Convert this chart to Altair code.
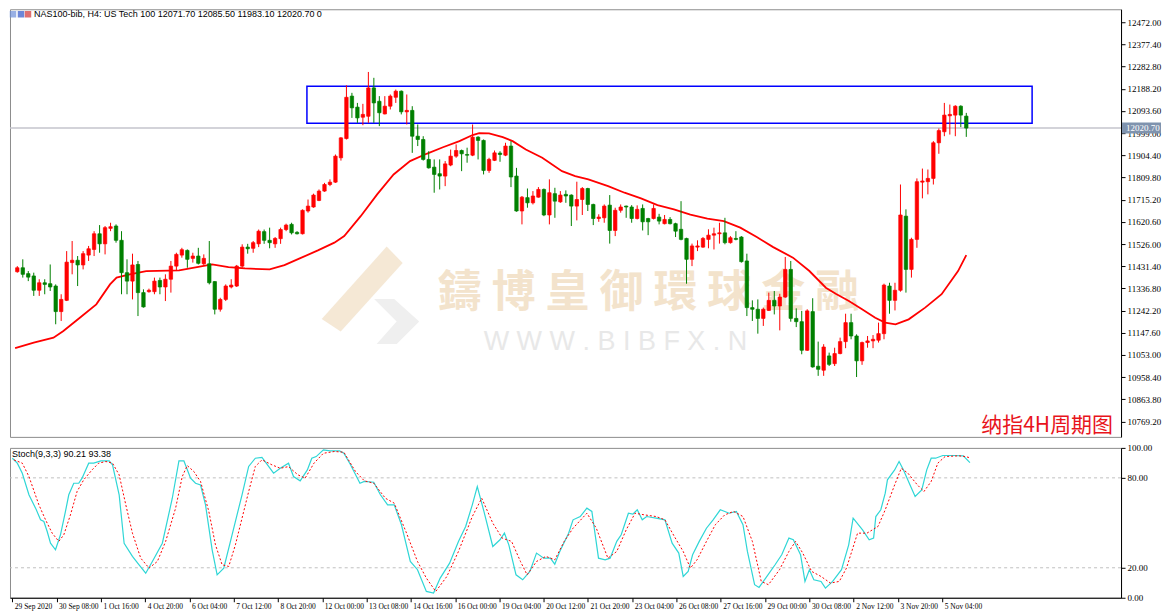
import altair as alt
import pandas as pd

# ---------------- data ----------------
opens = [11408,11425,11400,11390,11329,11361,11357,11347,11238,11286,
         11447,11457,11437,11479,11503,11570,11527,11593,11603,11542,
         11404,11368,11439,11319,11323,11323,11371,11343,11376,11432,
         11479,11499,11465,11475,11442,11442,11366,11248,11290,11343,
         11347,11432,11513,11508,11527,11579,11542,11527,11549,11588,
         11610,11576,11570,11667,11684,11712,11752,11780,11790,11894,
         11976,12157,12110,12067,12071,12192,12135,12081,12114,12152,
         12178,12090,12096,11986,11972,11887,11854,11826,11816,11863,
         11901,11925,11908,11905,11982,11968,11840,11883,11914,11905,
         11944,11816,11667,11724,11702,11726,11759,11650,11741,11706,
         11738,11735,11688,11716,11763,11695,11635,11638,11692,11584,
         11670,11688,11684,11635,11678,11635,11635,11641,11613,11631,
         11613,11589,11550,11461,11513,11513,11546,11564,11570,11574,
         11532,11550,11556,11454,11255,11248,11209,11243,11286,11262,
         11300,11418,11209,11195,11073,11238,11005,10988,11049,11016,
         11059,11110,11191,11134,11028,11106,11113,11116,11144,11347,
         11286,11329,11645,11418,11546,11790,11792,11806,11958,12005,
         12073,12076,12114,12071.7]
highs = [11432,11461,11411,11404,11376,11376,11439,11354,11312,11496,
         11539,11475,11496,11518,11581,11607,11603,11617,11610,11581,
         11461,11485,11454,11333,11336,11383,11383,11397,11454,11489,
         11510,11503,11489,11510,11482,11539,11368,11297,11354,11376,
         11437,11525,11527,11539,11588,11588,11596,11556,11596,11613,
         11617,11581,11674,11716,11741,11759,11787,11802,11908,11982,
         12203,12171,12128,12124,12260,12235,12157,12157,12164,12185,
         12181,12164,12114,12036,11986,11922,11887,11887,11880,11929,
         11951,11929,11937,12036,11986,11972,11894,11925,11922,11958,
         11965,11851,11731,11763,11752,11769,11763,11802,11766,11752,
         11755,11738,11792,11769,11766,11698,11653,11695,11735,11681,
         11695,11690,11692,11691,11695,11638,11695,11655,11650,11641,
         11617,11709,11553,11528,11542,11556,11589,11596,11617,11638,
         11560,11581,11560,11485,11286,11290,11255,11319,11326,11314,
         11471,11454,11252,11241,11248,11295,11110,11099,11063,11084,
         11127,11229,11229,11141,11110,11134,11138,11191,11357,11361,
         11361,11780,11674,11553,11806,11848,11844,11965,12019,12128,
         12121,12118,12118,12085.5]
lows = [11404,11383,11368,11305,11305,11312,11326,11184,11198,11283,
        11397,11347,11418,11454,11475,11489,11482,11581,11532,11312,
        11312,11290,11219,11255,11319,11312,11312,11283,11319,11411,
        11468,11425,11447,11439,11437,11354,11226,11238,11283,11337,
        11343,11425,11485,11489,11513,11527,11508,11510,11527,11581,
        11567,11567,11567,11660,11681,11709,11749,11773,11787,11882,
        11972,12064,12043,12033,12043,12043,12029,12079,12100,12128,
        12079,12036,11915,11944,11882,11848,11745,11759,11773,11858,
        11894,11837,11873,11901,11887,11823,11830,11880,11877,11901,
        11769,11664,11610,11681,11695,11724,11645,11610,11638,11702,
        11702,11603,11627,11650,11667,11607,11621,11617,11528,11560,
        11660,11638,11617,11631,11584,11564,11631,11610,11610,11610,
        11556,11542,11357,11432,11496,11510,11508,11503,11528,11525,
        11528,11542,11447,11219,11198,11144,11177,11241,11226,11158,
        11297,11195,11172,11056,11070,10999,10964,10964,11006,11006,
        11056,11082,11120,10959,11011,11084,11082,11106,11120,11229,
        11243,11323,11319,11383,11510,11721,11738,11780,11911,11986,
        11993,11986,12025,11983.1]
closes = [11425,11397,11385,11329,11361,11354,11343,11238,11290,11449,
          11457,11437,11485,11506,11570,11527,11596,11600,11542,11404,
          11368,11437,11319,11258,11329,11368,11343,11376,11432,11482,
          11502,11461,11475,11444,11465,11361,11248,11290,11347,11351,
          11432,11513,11506,11532,11581,11542,11532,11550,11588,11607,
          11574,11570,11670,11688,11735,11752,11780,11790,11901,11979,
          12152,12107,12064,12079,12192,12128,12086,12114,12157,12178,
          12090,12096,11986,11972,11887,11851,11823,11816,11868,11901,
          11925,11911,11905,11982,11968,11840,11887,11915,11908,11944,
          11812,11667,11726,11702,11731,11759,11650,11745,11709,11735,
          11731,11688,11716,11763,11695,11635,11641,11688,11584,11670,
          11684,11684,11635,11674,11621,11621,11678,11624,11631,11613,
          11581,11546,11461,11518,11518,11550,11564,11570,11574,11532,
          11553,11546,11451,11255,11248,11209,11248,11286,11262,11300,
          11418,11209,11195,11073,11241,11002,10992,11087,11013,11059,
          11110,11191,11134,11028,11106,11113,11120,11144,11351,11286,
          11329,11650,11418,11546,11792,11795,11806,11958,12010,12076,
          12079,12114,12076,12020.7]

# moving average (bar index, value)
ma_points = [(-0.4,11082),(3.0,11106),(6.6,11127),(8.4,11155),(11.4,11212),(14.4,11269),
             (16.9,11354),(18.1,11383),(20.5,11397),(23.5,11411),(29.5,11414),(35.5,11439),
             (38.5,11428),(41.5,11422),(46.0,11418),(48.7,11436),(51.8,11468),(54.8,11499),
             (57.8,11532),(59.6,11560),(62.6,11645),(65.6,11738),(68.6,11823),(71.6,11880),
             (74.6,11911),(77.6,11939),(80.6,11965),(83.0,11991),(84.2,11999),(86.0,11998),
             (88.5,11982),(90.3,11965),(92.7,11929),(95.7,11894),(99.3,11837),(101.7,11816),
             (104.1,11802),(107.7,11773),(110.7,11745),(113.7,11721),(116.7,11692),(119.7,11674),
             (122.7,11652),(125.8,11635),(128.8,11624),(131.8,11596),(134.8,11556),(137.8,11513),
             (141.4,11468),(144.4,11411),(147.4,11340),(149.2,11314),(151.6,11283),(154.0,11248),
             (156.4,11212),(158.2,11191),(160.1,11184),(162.5,11205),(165.5,11255),(168.5,11312),
             (171.5,11411),(173.0,11479)]

# Stochastic %K (main, cyan) and %D (signal, red dotted)
k_points = [(0,93.1),(0.9,89.8),(1.8,83.1),(3.0,68.7),(4.2,59.8),(5.1,52.0),(5.7,50.9),(6.3,44.2),
            (6.9,36.4),(7.8,32.0),(8.7,42.0),(9.6,57.6),(10.2,68.7),(11.1,76.4),(12.0,76.4),(12.6,79.8),
            (13.8,89.8),(14.7,89.8),(16.0,91.3),(17.5,91.3),(18.1,88.7),(19.3,68.7),(20.2,36.4),(21.7,27.6),
            (22.9,22.0),(24.1,16.4),(25.3,24.2),(27.1,36.4),(28.9,66.4),(30.1,91.3),(31.0,91.3),(32.2,79.8),
            (33.1,76.4),(34.0,75.3),(34.9,62.0),(36.1,32.0),(37.0,15.3),(38.2,19.8),(39.7,42.0),(41.5,68.7),
            (42.7,87.6),(43.9,93.1),(45.1,93.6),(46.3,87.6),(47.2,83.1),(48.4,86.4),(49.9,89.8),(50.8,80.9),
            (52.0,78.0),(53.3,85.3),(54.1,93.1),(54.9,94.2),(56.2,98.7),(57.4,98.0),(59.1,98.0),(59.9,96.4),
            (61.1,88.7),(62.8,76.4),(63.6,77.6),(65.3,77.1),(66.5,68.7),(67.8,62.0),(69.0,62.0),(70.3,48.7),
            (71.9,24.2),(73.2,18.7),(74.8,4.2),(76.1,3.1),(77.3,13.1),(79.0,23.1),(80.6,37.6),(81.9,47.6),
            (83.1,62.0),(84.0,74.2),(85.2,57.6),(86.8,34.2),(88.1,38.7),(88.9,43.1),(89.7,35.3),(91.0,15.3),
            (92.2,12.0),(93.5,17.6),(94.7,29.8),(96.0,26.4),(97.2,26.4),(98.0,22.4),(98.9,30.9),(100.5,43.1),
            (101.3,52.0),(102.6,54.2),(103.8,59.8),(104.7,57.6),(105.9,26.4),(107.1,25.3),(108.0,26.4),
            (109.2,37.6),(110.0,42.0),(111.3,56.4),(112.1,55.8),(112.9,58.7),(113.8,52.0),(114.6,54.2),
            (116.3,53.1),(117.9,52.0),(119.2,36.4),(120.4,29.8),(121.2,14.2),(122.1,17.6),(122.9,28.7),
            (124.1,37.6),(125.4,46.4),(126.6,52.0),(127.9,58.7),(129.5,56.4),(130.8,57.6),(132.0,48.7),
            (132.8,30.9),(134.1,8.7),(134.9,6.9),(136.1,13.1),(137.8,22.0),(139.0,28.7),(140.3,39.8),
            (141.1,38.7),(142.4,28.7),(143.2,10.9),(144.0,18.7),(144.8,12.0),(146.1,10.9),(146.9,6.4),
            (148.2,10.9),(149.8,18.7),(151.1,35.3),(151.9,53.1),(153.6,45.3),(154.8,38.7),(155.6,39.8),
            (156.0,54.2),(156.9,58.7),(157.7,69.8),(158.1,78.7),(159.4,85.3),(160.2,90.9),(161.0,85.3),
            (162.3,74.2),(163.1,67.6),(164.3,72.0),(165.2,85.3),(166.0,93.1),(166.8,93.1),(168.1,94.9),
            (170.1,94.9),(171.8,94.7),(173.0,90.21)]
d_points = [(0.3,92.0),(1.8,89.8),(3.0,80.9),(4.8,62.0),(6.0,52.0),(7.2,43.1),(8.4,37.6),(9.3,42.0),
            (10.5,55.3),(11.7,70.9),(12.9,78.7),(14.4,85.3),(15.6,89.8),(16.9,90.9),(18.1,89.8),(19.3,82.0),
            (20.5,62.0),(21.7,43.1),(23.2,26.4),(24.7,19.8),(26.2,24.2),(27.7,37.6),(29.5,59.8),(30.7,80.9),
            (31.6,88.2),(32.8,84.2),(34.0,77.6),(35.5,57.6),(36.7,35.3),(37.9,22.0),(39.1,20.9),(40.3,35.3),
            (41.5,53.1),(42.7,70.9),(43.9,87.6),(45.1,92.0),(46.9,88.7),(48.4,86.4),(49.9,87.5),(51.6,82.0),
            (52.9,79.8),(54.5,89.8),(56.2,96.4),(58.2,97.6),(59.9,97.1),(62.0,84.2),(63.6,78.0),(65.3,76.4),
            (67.4,66.4),(69.0,63.1),(71.1,44.2),(73.2,24.2),(74.8,13.1),(76.5,4.2),(78.5,14.2),(80.6,30.9),
            (83.1,54.2),(84.8,66.4),(86.8,49.8),(88.5,39.8),(90.2,37.6),(91.8,24.2),(93.0,15.3),(94.7,24.2),
            (96.4,27.6),(98.0,25.3),(99.7,37.6),(101.3,46.4),(103.8,56.4),(105.5,46.4),(107.6,26.4),
            (109.2,30.9),(110.9,45.3),(112.5,56.4),(114.2,55.3),(116.3,54.2),(117.9,52.0),(119.6,40.9),
            (121.2,30.9),(122.5,19.8),(123.7,25.3),(125.4,37.6),(127.0,48.7),(128.7,55.3),(130.3,57.6),
            (132.0,54.2),(133.7,37.6),(135.3,10.9),(136.6,8.7),(138.6,18.7),(140.3,30.9),(141.5,37.6),
            (142.8,29.8),(144.4,17.6),(146.1,14.2),(147.8,9.8),(149.4,10.9),(150.7,19.8),(152.7,43.1),
            (154.4,43.1),(156.4,47.6),(157.7,58.7),(159.4,75.3),(160.6,86.4),(161.8,83.1),(163.5,75.3),
            (164.7,70.9),(166.0,77.6),(167.2,89.8),(168.5,94.2),(171.0,94.7),(172.2,94.2),(173.0,93.38)]

price_ticks = [12472.00,12377.40,12282.80,12188.20,12093.60,11999.00,11904.40,11809.80,11715.20,
               11620.60,11526.00,11431.40,11336.80,11242.20,11147.60,11053.00,10958.40,10863.80,10769.20]
stoch_ticks = [0, 20, 80, 100]
stoch_levels = [80, 20]
time_labels = ["29 Sep 2020","30 Sep 08:00","1 Oct 16:00","4 Oct 20:00","6 Oct 04:00","7 Oct 12:00",
               "8 Oct 20:00","12 Oct 00:00","13 Oct 08:00","14 Oct 16:00","16 Oct 00:00","19 Oct 04:00",
               "20 Oct 12:00","21 Oct 20:00","23 Oct 04:00","26 Oct 08:00","27 Oct 16:00","29 Oct 00:00",
               "30 Oct 08:00","2 Nov 12:00","3 Nov 20:00","5 Nov 04:00"]
time_tick_bars = [8 * k for k in range(len(time_labels))]

header_ohlc = [12071.70, 12085.50, 11983.10, 12020.70]
stoch_last = [90.21, 93.38]
box_bars = [52.8, 185.0]
box_prices = [12041.6, 12199.3]
last_price = header_ohlc[3]

# ---------------- frames ----------------
n = len(opens)
bars = pd.DataFrame({"i": list(range(n)), "o": opens, "h": highs, "l": lows, "c": closes})
bars["dir"] = ["up" if c >= o else "down" for o, c in zip(opens, closes)]
ma_df = pd.DataFrame(ma_points, columns=["i", "v"])
k_df = pd.DataFrame(k_points, columns=["i", "v"])
d_df = pd.DataFrame(d_points, columns=["i", "v"])
box_df = pd.DataFrame({"x1": [box_bars[0]], "x2": [box_bars[1]], "y1": [box_prices[0]], "y2": [box_prices[1]]})
lvl_df = pd.DataFrame({"v": stoch_levels})

W, H1, H2 = 1112, 428, 150
FONT = "Liberation Sans Narrow"
BASE = "Liberation Sans"

xs = alt.Scale(domain=[-0.42, 200.3], nice=False, zero=False)
ps = alt.Scale(domain=[10703.7, 12527.4], nice=False, zero=False)
ss = alt.Scale(domain=[0, 100], nice=False, zero=False)
cs = alt.Scale(domain=["up", "down"], range=["#ff0000", "#008000"])

paxis = alt.Axis(orient="right", values=price_ticks, format=".2f", title=None, grid=False,
                 tickSize=4, labelPadding=2, labelFontSize=9, labelFont=FONT, labelOverlap=False,
                 labelFlush=False, domainColor="#000000", tickColor="#000000", labelColor="#000000")
saxis = alt.Axis(orient="right", values=stoch_ticks, format=".2f", title=None, grid=False,
                 tickSize=4, labelPadding=2, labelFontSize=9, labelFont=FONT, labelOverlap=False,
                 labelFlush=False, domainColor="#000000", tickColor="#000000", labelColor="#000000")
label_expr = "[" + ",".join("'" + t + "'" for t in time_labels) + "][round(datum.value/8)]"
xaxis = alt.Axis(values=time_tick_bars, labelExpr=label_expr, title=None, grid=False, tickSize=4,
                 labelAlign="left", labelOffset=2, labelPadding=1, labelFontSize=7.5, labelFont=FONT,
                 labelFlush=False, labelOverlap=False, labelBound=False,
                 domainColor="#000000", tickColor="#000000", labelColor="#000000")

XN = alt.X("i:Q", scale=xs, axis=None)

# ---------------- price panel ----------------
# faint watermark logo (decoration) drawn as two symbol shapes
logo_band = "M -1 0.5 L 0.3 -0.95 L 0.62 -0.62 L -0.62 0.75 Z"
logo_chev = "M 0.05 0.1 L 0.45 0.1 L 0.95 0.55 L 0.5 1.0 L 0.1 1.0 L 0.5 0.55 Z"
logo1 = alt.Chart(pd.DataFrame({"k": [1]})).mark_point(
    shape=logo_band, size=10000, filled=True, fill="#f5e8d5", strokeWidth=0, opacity=1
).encode(x=alt.value(362), y=alt.value(285))
logo2 = alt.Chart(pd.DataFrame({"k": [1]})).mark_point(
    shape=logo_chev, size=10000, filled=True, fill="#efefef", strokeWidth=0, opacity=1
).encode(x=alt.value(362), y=alt.value(285))

wm1 = alt.Chart(pd.DataFrame({"t": ["鑄 博 皇 御 環 球 金 融"]})).mark_text(
    font="Noto Sans CJK TC", fontSize=44, color="#f3e3cc", fontWeight="bold"
).encode(x=alt.value(639), y=alt.value(285), text="t:N")
wm2 = alt.Chart(pd.DataFrame({"t": ["W  W  W  .  B  I  B  F  X  .  N"]})).mark_text(
    font=BASE, fontSize=27, color="#e8e8e8"
).encode(x=alt.value(606), y=alt.value(333), text="t:N")

last_line = alt.Chart(pd.DataFrame({"p": [last_price]})).mark_rule(color="#c4c4cc", strokeWidth=1.5).encode(
    y=alt.Y("p:Q", scale=ps, axis=paxis))
box = alt.Chart(box_df).mark_rect(filled=False, color="#0000ff", strokeWidth=1.5).encode(
    x=alt.X("x1:Q", scale=xs, axis=None), x2="x2:Q",
    y=alt.Y("y1:Q", scale=ps, axis=paxis), y2="y2:Q")
ma = alt.Chart(ma_df).mark_line(color="#ff0000", strokeWidth=1.8, clip=True).encode(
    x=XN, y=alt.Y("v:Q", scale=ps, axis=paxis))
wicks = alt.Chart(bars).mark_rule(strokeWidth=1).encode(
    x=XN, y=alt.Y("l:Q", scale=ps, axis=paxis), y2="h:Q",
    color=alt.Color("dir:N", scale=cs, legend=None))
bodies = alt.Chart(bars).mark_bar(size=3.4, strokeWidth=0.7).encode(
    x=XN, y=alt.Y("o:Q", scale=ps, axis=paxis), y2="c:Q",
    fill=alt.Fill("dir:N", scale=cs, legend=None),
    stroke=alt.Stroke("dir:N", scale=cs, legend=None))

header_txt = "NAS100-bib, H4:  US Tech 100  " + " ".join(f"{v:.2f}" for v in header_ohlc) + "  0"
header = alt.Chart(pd.DataFrame({"t": [header_txt]})).mark_text(
    font=BASE, fontSize=9, align="left", baseline="top", color="#000000"
).encode(x=alt.value(24), y=alt.value(1), text="t:N")
icon_a = alt.Chart(pd.DataFrame({"k": [1]})).mark_square(size=42, filled=True, color="#6d8fd8").encode(
    x=alt.value(3), y=alt.value(5))
icon_b = alt.Chart(pd.DataFrame({"k": [1]})).mark_square(size=42, filled=True, color="#2f52c6").encode(
    x=alt.value(11), y=alt.value(5))
icon_c = alt.Chart(pd.DataFrame({"k": [1]})).mark_square(size=42, filled=True, color="#d23232").encode(
    x=alt.value(18), y=alt.value(5))
cn = alt.Chart(pd.DataFrame({"t": ["纳指4H周期图"]})).mark_text(
    font="Noto Sans CJK SC", fontSize=21, align="right", baseline="alphabetic", color="#e8141c"
).encode(x=alt.value(W - 8), y=alt.value(H1 - 5), text="t:N")

tag = alt.Chart(pd.DataFrame({"p": [last_price]})).mark_rect(height=11, color="#7f93ae").encode(
    x=alt.value(W + 1), x2=alt.value(W + 40), y=alt.Y("p:Q", scale=ps, axis=paxis))
tag_txt = alt.Chart(pd.DataFrame({"p": [last_price], "t": [f"{last_price:.2f}"]})).mark_text(
    font=FONT, fontSize=9, align="left", baseline="middle", color="#ffffff"
).encode(x=alt.value(W + 5), y=alt.Y("p:Q", scale=ps, axis=paxis), text="t:N")

price_panel = alt.layer(logo1, logo2, wm1, wm2, last_line, box, ma, wicks, bodies,
                        icon_a, icon_b, icon_c, header, cn, tag, tag_txt).properties(width=W, height=H1)

# ---------------- stochastic panel ----------------
XB = alt.X("i:Q", scale=xs, axis=xaxis)
levels = alt.Chart(lvl_df).mark_rule(color="#c0c0c0", strokeDash=[3, 3], strokeWidth=1).encode(
    y=alt.Y("v:Q", scale=ss, axis=saxis))
kline = alt.Chart(k_df).mark_line(color="#2fd6d6", strokeWidth=1.2).encode(
    x=XB, y=alt.Y("v:Q", scale=ss, axis=saxis))
dline = alt.Chart(d_df).mark_line(color="#ff0000", strokeWidth=1, strokeDash=[2, 2]).encode(
    x=XB, y=alt.Y("v:Q", scale=ss, axis=saxis))
st_txt = "Stoch(9,3,3) " + " ".join(f"{v:.2f}" for v in stoch_last)
stoch_label = alt.Chart(pd.DataFrame({"t": [st_txt]})).mark_text(
    font=BASE, fontSize=9, align="left", baseline="top", color="#000000"
).encode(x=alt.value(2), y=alt.value(2), text="t:N")

stoch_panel = alt.layer(levels, kline, dline, stoch_label).properties(width=W, height=H2)

chart = alt.vconcat(price_panel, stoch_panel, spacing=5).properties(
    padding=0, background="#ffffff"
).configure_view(stroke="#8c8c8c", strokeWidth=1)

chart.save("out.html", embed_options={"renderer": "svg", "actions": False})
